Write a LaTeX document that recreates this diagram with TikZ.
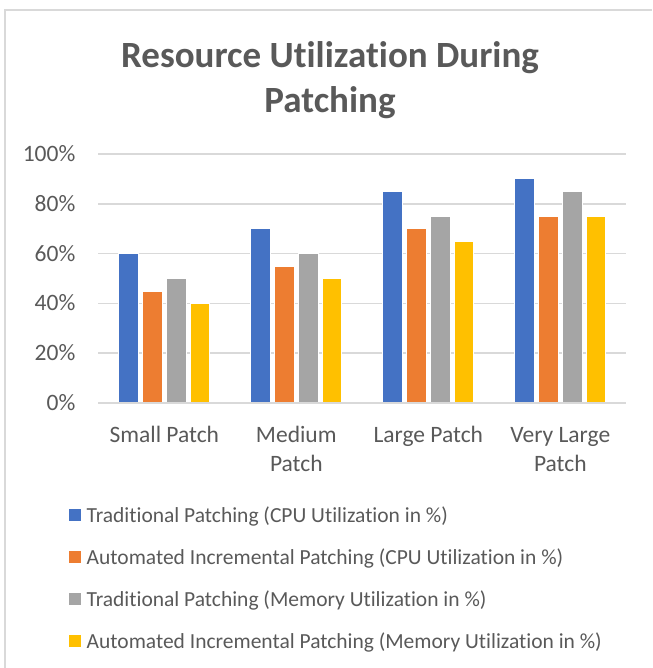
\documentclass[tikz,border=0pt]{standalone}
\usepackage{fontspec}
\setmainfont{Carlito}[Ligatures=NoCommon]
\definecolor{txtc}{HTML}{595959}
\definecolor{gridc}{HTML}{D9D9D9}
\definecolor{framec}{HTML}{D9D9D9}
\definecolor{sA}{HTML}{4472C4}
\definecolor{sB}{HTML}{ED7D31}
\definecolor{sC}{HTML}{A5A5A5}
\definecolor{sD}{HTML}{FFC000}
\begin{document}
\begin{tikzpicture}[x=1pt,y=-1pt,
  gridline/.style={draw=gridc,line width=1.5pt},
  barbox/.style={draw=white,line width=0.8pt},
  axislabel/.style={text=txtc,font=\fontsize{23.5}{28}\selectfont,inner sep=0pt},
  legendlabel/.style={text=txtc,font=\fontsize{21.5}{26}\selectfont,inner sep=0pt,anchor=base west},
  legendmark/.style={minimum size=11.5pt,inner sep=0pt,draw=none},
  titletext/.style={text=txtc,font=\fontsize{37}{45}\selectfont\bfseries,inner sep=0pt,anchor=base}]
\useasboundingbox (0,0) rectangle (652,668);
% frame
\draw[draw=framec,line width=2pt] (4.5,668) -- (4.5,10) -- (652,10);
% title
\node[titletext] (t1) at (330,68) {Resource Utilization During};
\node[titletext] (t2) at (330,113) {Patching};
% gridlines and tick labels
\foreach \v in {0,20,40,60,80,100}{
  \draw[gridline] (98,{403-2.49*\v}) -- (626,{403-2.49*\v});
  \node[axislabel,anchor=base east] (y\v) at (75.5,{403-2.49*\v+7.4}) {\v\%};
}
% bars
\foreach \c/\a/\b/\cc/\d in {0/60/45/50/40,1/70/55/60/50,2/85/70/75/65,3/90/75/85/75}{
  \pgfmathsetmacro\gx{164.3+132*\c}
  \fill[sA,barbox] ({\gx-35.9-9.6},403) rectangle ({\gx-35.9+9.6},{403-2.49*\a});
  \fill[sB,barbox] ({\gx-12-9.6},403) rectangle ({\gx-12+9.6},{403-2.49*\b});
  \fill[sC,barbox] ({\gx+12-9.6},403) rectangle ({\gx+12+9.6},{403-2.49*\cc});
  \fill[sD,barbox] ({\gx+35.9-9.6},403) rectangle ({\gx+35.9+9.6},{403-2.49*\d});
}
% redraw baseline gridline on top
\draw[gridline] (98,403) -- (626,403);
% category labels
\node[axislabel,anchor=base] (c1) at (164.3,442) {Small Patch};
\node[axislabel,anchor=base] (c2a) at (296.3,442) {Medium};
\node[axislabel,anchor=base] (c2b) at (296.3,471) {Patch};
\node[axislabel,anchor=base] (c3) at (428.3,442) {Large Patch};
\node[axislabel,anchor=base] (c4a) at (560.3,442) {Very Large};
\node[axislabel,anchor=base] (c4b) at (560.3,471) {Patch};
% legend
\node[legendmark,fill=sA] (m1) at (75,515) {};
\node[legendmark,fill=sB] (m2) at (75,557) {};
\node[legendmark,fill=sC] (m3) at (75,599) {};
\node[legendmark,fill=sD] (m4) at (75,641) {};
\node[legendlabel] (l1) at (86.5,522) {Traditional Patching (CPU Utilization in \%)};
\node[legendlabel] (l2) at (86.5,564) {Automated Incremental Patching (CPU Utilization in \%)};
\node[legendlabel] (l3) at (86.5,606) {Traditional Patching (Memory Utilization in \%)};
\node[legendlabel] (l4) at (86.5,648) {Automated Incremental Patching (Memory Utilization in \%)};
\end{tikzpicture}
\end{document}
